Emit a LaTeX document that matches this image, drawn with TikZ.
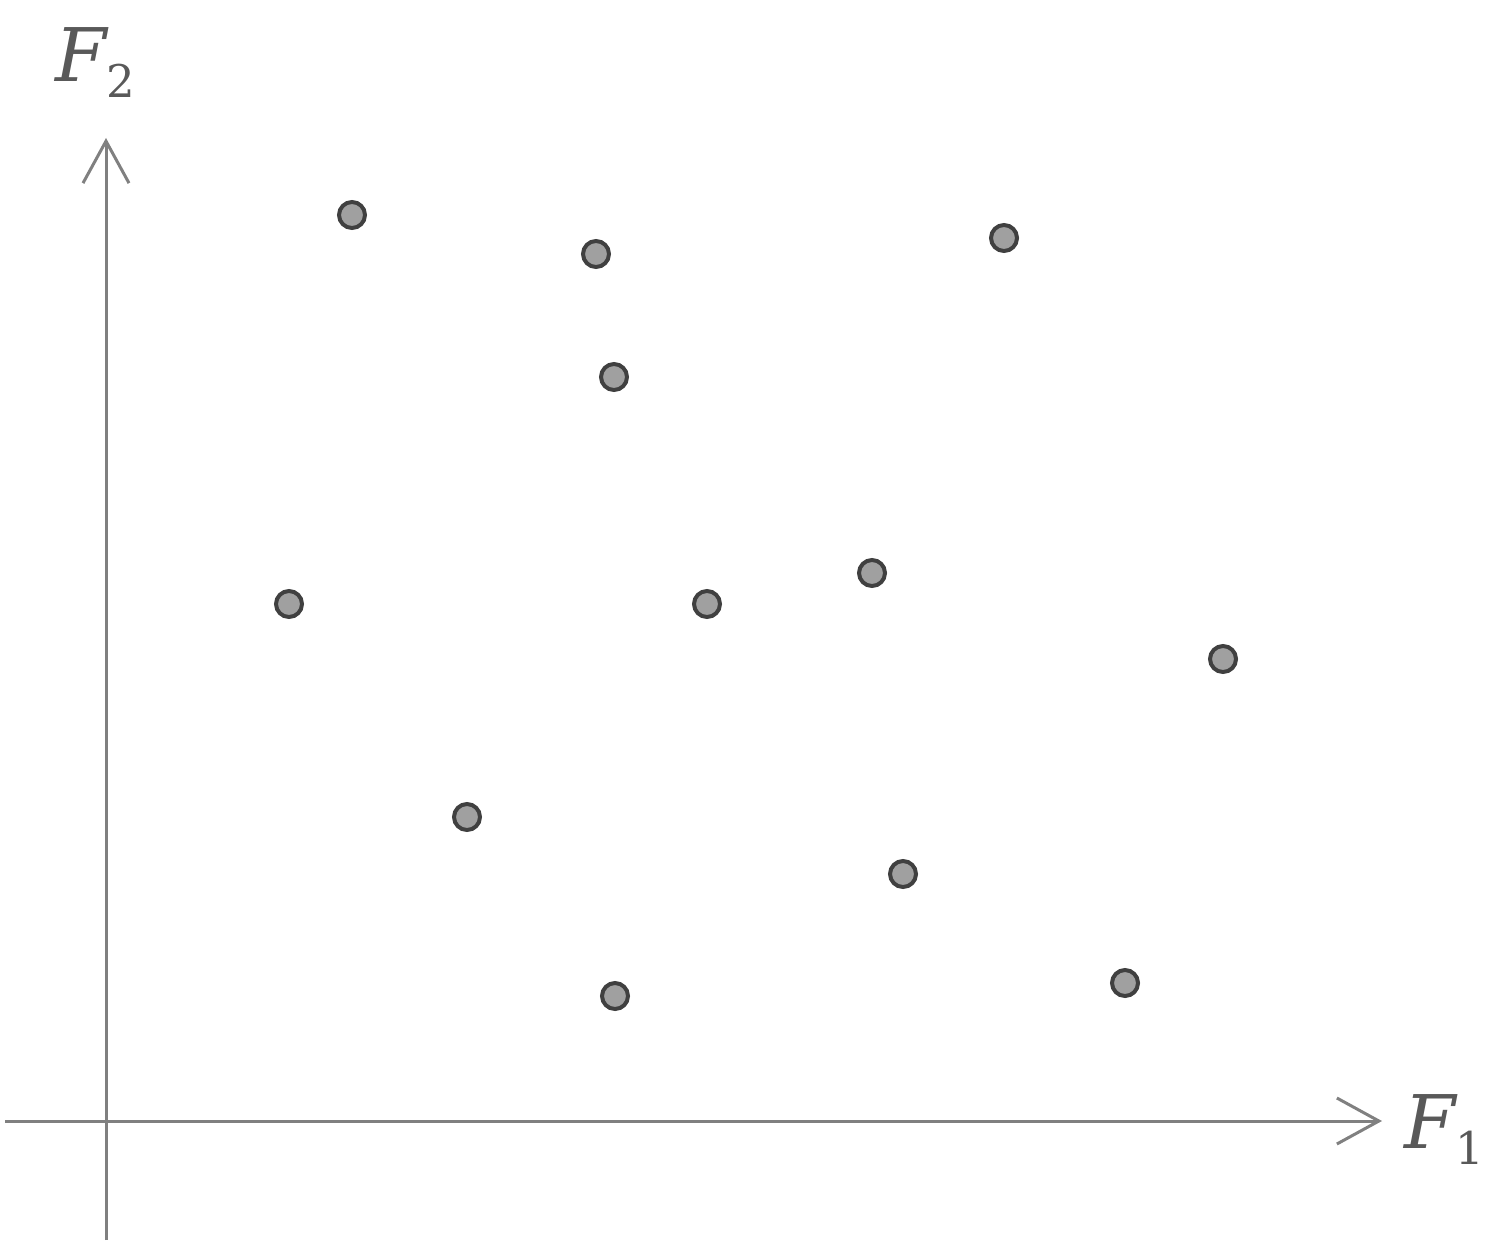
\documentclass[tikz,border=0pt]{standalone}
\usepackage{fontspec}
\newfontfamily\labfont{DejaVu Serif}
\usetikzlibrary{arrows.meta}
\definecolor{axisgray}{HTML}{808080}
\definecolor{dotfill}{HTML}{A0A0A0}
\definecolor{dotline}{HTML}{404040}
\definecolor{labelgray}{HTML}{595959}
\newcommand{\axlab}[2]{{\fontsize{37}{40}\selectfont\labfont\itshape #1}\raisebox{-8pt}{\fontsize{22.5}{24}\selectfont\labfont #2}}
\begin{document}
\begin{tikzpicture}[x=0.5pt,y=-0.5pt,
  axis/.style={draw=axisgray,line width=1.5pt,-{Straight Barb[length=21pt,width=23pt,line width=1.5pt]}},
  pt/.style={circle,draw=dotline,fill=dotfill,line width=2pt,minimum size=13pt,inner sep=0pt},
  lab/.style={text=labelgray,inner sep=0pt,anchor=base west}]
\useasboundingbox (0,0) rectangle (1498,1246);
\coordinate (xs) at (5,1121);
\coordinate (xe) at (1382,1121);
\coordinate (ys) at (106,1240);
\coordinate (ye) at (106,138);
\draw[axis] (xs) -- (xe);
\draw[axis] (ys) -- (ye);
\node[lab] (f2) at (55,82) {\axlab{F}{2}};
\node[lab] (f1) at (1404,1148) {\axlab{F}{1}};
\foreach \n/\x/\y in {a/352/215,b/596/254,c/1004/238,d/614/377,e/289/604,f/707/604,g/872/573,h/1223/659,i/467/817,j/903/874,k/615/996,l/1125/983}
  \node[pt] (\n) at (\x,\y) {};
\end{tikzpicture}
\end{document}
